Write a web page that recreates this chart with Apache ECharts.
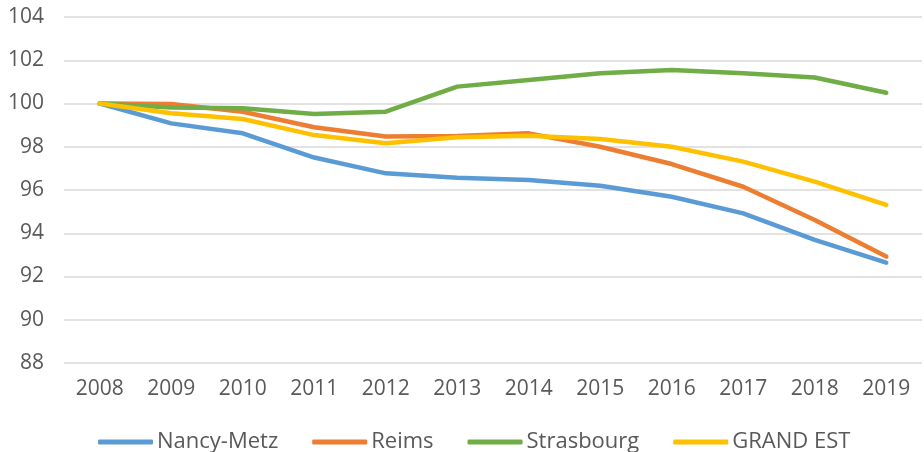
<!DOCTYPE html>
<html>
<head>
<meta charset="utf-8">
<script src="https://cdn.jsdelivr.net/npm/echarts@6.0.0/dist/echarts.min.js"></script>
<style>
  html, body { margin: 0; padding: 0; background: #fff; }
  #chart { width: 924px; height: 452px; }
</style>
</head>
<body>
<div id="chart"></div>
<script>
// Indice base 100 en 2008
const years = ['2008', '2009', '2010', '2011', '2012', '2013', '2014', '2015', '2016', '2017', '2018', '2019']
const nancyMetz = [100, 99.08, 98.62, 97.5, 96.77, 96.57, 96.46, 96.2, 95.69, 94.92, 93.69, 92.64]
const reims = [100, 99.98, 99.62, 98.9, 98.47, 98.5, 98.62, 98.0, 97.2, 96.15, 94.61, 92.92]
const strasbourg = [100, 99.82, 99.78, 99.51, 99.62, 100.78, 101.09, 101.4, 101.55, 101.4, 101.2, 100.5]
const grandEst = [100, 99.55, 99.28, 98.54, 98.16, 98.44, 98.51, 98.36, 98.0, 97.31, 96.39, 95.31]

const font = 'Open Sans'
const textGrey = '#595959'

const line = (name, data, color) => ({
  name, type: 'line', data,
  symbol: 'none',
  lineStyle: { width: 4.5, color, cap: 'round', join: 'round' },
  itemStyle: { color },
})

const chart = echarts.init(document.getElementById('chart'), null, { renderer: 'canvas' })
chart.setOption({
  animation: false,
  textStyle: { fontFamily: font },
  grid: { left: 64, right: 2, top: 17, bottom: 89 },
  legend: {
    top: 426, left: 93,
    icon: 'roundRect', itemWidth: 55, itemHeight: 5, itemGap: 34,
    textStyle: { color: textGrey, fontSize: 22, fontFamily: font, padding: [0, 0, 0, -1] },
  },
  xAxis: {
    type: 'category', data: years, boundaryGap: true,
    axisLine: { show: false }, axisTick: { show: false },
    axisLabel: { color: textGrey, fontSize: 21, margin: 16 },
  },
  yAxis: {
    type: 'value', min: 88, max: 104, interval: 2,
    axisLine: { show: false }, axisTick: { show: false },
    axisLabel: { color: textGrey, fontSize: 21, margin: 20 },
    splitLine: { lineStyle: { color: '#d9d9d9', width: 1.5 } },
  },
  series: [
    line('Nancy-Metz', nancyMetz, '#5b9bd5'),
    line('Reims', reims, '#ed7d31'),
    line('Strasbourg', strasbourg, '#70ad47'),
    line('GRAND EST', grandEst, '#ffc000'),
  ],
})
</script>
</body>
</html>
